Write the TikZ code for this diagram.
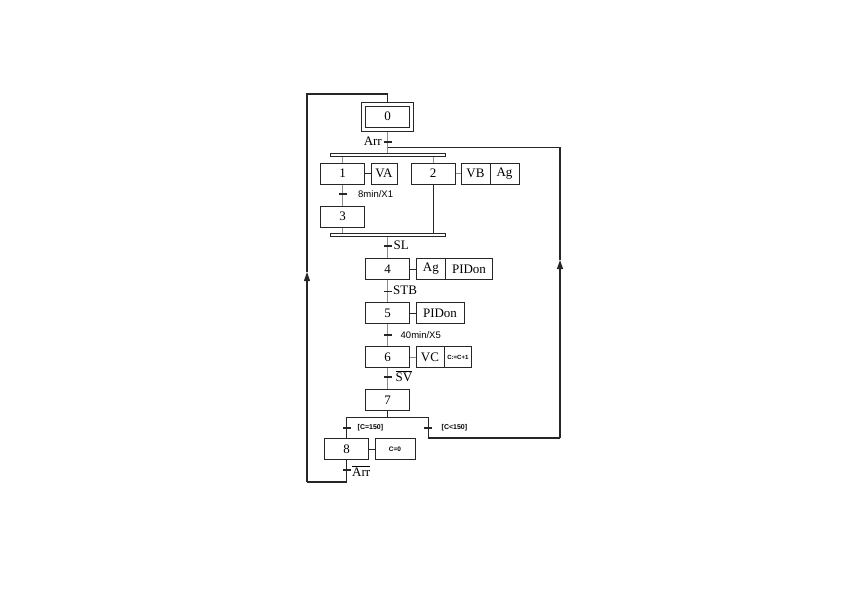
\documentclass[tikz,border=0pt]{standalone}
\usepackage{fontspec}
\setmainfont{Liberation Serif}
\newfontfamily\smallsans{Liberation Sans}
\usetikzlibrary{arrows.meta,backgrounds}
\begin{document}
\begin{tikzpicture}[x=1pt,y=-1pt,
  stepbox/.style={draw=black!85, line width=0.8pt, minimum width=44pt, minimum height=21pt, inner sep=0pt, font=\fontsize{13}{13}\selectfont},
  act/.style={draw=black!85, line width=0.8pt, minimum height=21pt, inner sep=0pt, font=\fontsize{13}{13}\selectfont},
  tick/.style={fill=black!85, draw=none, minimum width=8pt, minimum height=1.1pt, inner sep=0pt, outer sep=0pt},
  link/.style={draw=black!45, line width=0.9pt},
  alink/.style={draw=black!85, line width=0.8pt},
  loopline/.style={draw=black!85, line width=1.1pt},
  lbl/.style={font=\fontsize{13}{13}\selectfont, anchor=west, inner sep=0pt},
  slbl/.style={font=\smallsans\fontsize{9.5}{9.5}\selectfont, anchor=west, inner sep=0pt},
  tlbl/.style={font=\smallsans\bfseries\fontsize{7}{7}\selectfont, anchor=west, inner sep=0pt},
  bar/.style={draw=black!85, line width=0.8pt, minimum width=115pt, minimum height=3pt, inner sep=0pt},
  tip/.style={-{Triangle[length=9pt,width=6pt]}},
]
\useasboundingbox (0,0) rectangle (848,599);

% steps
\node[draw=black!85, line width=0.8pt, minimum width=52pt, minimum height=29pt, inner sep=0pt] (s0o) at (387.5,116.5) {};
\node[stepbox] (s0) at (387.5,116.5) {0};
\node[bar] (b1) at (387.5,154.5) {};
\node[stepbox] (s1) at (342.5,173.5) {1};
\node[act, minimum width=26pt] (a1) at (384,173.5) {VA};
\node[stepbox] (s2) at (433,173.5) {2};
\node[act, minimum width=29pt] (a2) at (475.5,173.5) {VB};
\node[act, minimum width=29pt] (a2b) at (504.5,173.5) {Ag};
\node[stepbox] (s3) at (342.5,216.5) {3};
\node[bar] (b2) at (387.5,234.5) {};
\node[stepbox] (s4) at (387.5,269) {4};
\node[act, minimum width=29.7pt] (a4) at (430.85,269) {Ag};
\node[act, minimum width=46.6pt] (a4b) at (469,269) {PIDon};
\node[stepbox] (s5) at (387.5,313) {5};
\node[act, minimum width=48pt] (a5) at (440,313) {PIDon};
\node[stepbox] (s6) at (387.5,357) {6};
\node[act, minimum width=28pt] (a6) at (430,357) {VC};
\node[act, minimum width=27.7pt, font=\smallsans\bfseries\fontsize{6}{6}\selectfont] (a6b) at (457.85,357) {C:=C+1};
\node[stepbox] (s7) at (387.5,400) {7};
\node[stepbox] (s8) at (346.5,449) {8};
\node[act, minimum width=40pt, font=\smallsans\bfseries\fontsize{6.5}{6.5}\selectfont] (a8) at (395,449) {C=0};

% transitions
\node[tick] (t0) at (387.5,142) {};
\node[lbl, anchor=east] (l0) at (382,141) {Arr};
\node[tick] (t1) at (342.5,194) {};
\node[slbl] (l1) at (358,194) {8min/X1};
\node[tick] (t2) at (387.5,246) {};
\node[lbl] (l2) at (393.5,245) {SL};
\node[tick] (t3) at (387.5,291.5) {};
\node[lbl] (l3) at (393,290.5) {STB};
\node[tick] (t4) at (387.5,335) {};
\node[slbl] (l4) at (400.5,335) {40min/X5};
\node[tick] (t5) at (387.5,377) {};
\node[lbl] (l5) at (395.5,376) {$\overline{\mbox{SV}}$};
\node[tick] (t6) at (346.5,428) {};
\node[tlbl] (l6) at (357.5,428) {[C=150]};
\node[tick] (t7) at (428.3,428) {};
\node[tlbl] (l7) at (441.5,428) {[C<150]};
\node[tick] (t8) at (346.5,470) {};
\node[lbl] (l8) at (352,471) {$\overline{\mbox{Arr}}$};

% coordinates
\coordinate (j0) at (387.5,147.5);
\coordinate (sp) at (387.5,417);
\coordinate (spl) at (346.5,417);
\coordinate (spr) at (428.3,417);
\coordinate (rb) at (428.3,438);
\coordinate (rbr) at (560,438);
\coordinate (ra) at (560,260);
\coordinate (rt) at (560,147.5);
\coordinate (ll) at (307,482);
\coordinate (la) at (307,272);
\coordinate (ul) at (307,94);

\begin{scope}[on background layer]
% vertical links
\draw[link] (s0o.south) -- (b1.north);
\draw[link] (s1.north |- b1.south) -- (s1.north);
\draw[link] (s2.north |- b1.south) -- (s2.north);
\draw[link] (s1.south) -- (s3.north);
\draw[link] (s3.south) -- (s3.south |- b2.north);
\draw[alink] (s2.south) -- (s2.south |- b2.north);
\draw[link] (b2.south) -- (s4.north);
\draw[link] (s4.south) -- (s5.north);
\draw[link] (s5.south) -- (s6.north);
\draw[link] (s6.south) -- (s7.north);

% action links
\draw[alink] (s1.east) -- (a1.west);
\draw[link] (s2.east) -- (a2.west);
\draw[alink] (s4.east) -- (a4.west);
\draw[alink] (s5.east) -- (a5.west);
\draw[link] (s6.east) -- (a6.west);
\draw[alink] (s8.east) -- (a8.west);

% divergence after 7
\draw[alink] (s7.south) -- (sp);
\draw[alink] (spl) -- (spr);
\draw[alink] (spl) -- (s8.north);
\draw[loopline] (spr) -- (rb) -- (rbr);
\draw[loopline, tip] (rbr) -- (ra);
\draw[loopline] (ra) -- (rt) -- (j0);

% return loop to step 0
\draw[loopline] (s8.south) |- (ll);
\draw[loopline, tip] (ll) -- (la);
\draw[loopline] (la) -- (ul) -| (s0o.north);
\end{scope}
\end{tikzpicture}
\end{document}
